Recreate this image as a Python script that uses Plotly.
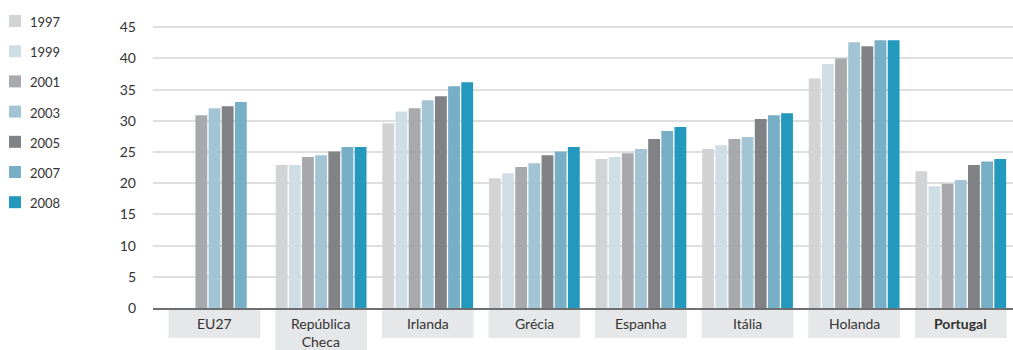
import plotly.graph_objects as go

categories = ["EU27", "República<br>Checa", "Irlanda", "Grécia", "Espanha", "Itália", "Holanda", "<b>Portugal</b>"]
years = ["1997", "1999", "2001", "2003", "2005", "2007", "2008"]

v1997 = [None, 22.9, 29.6, 20.8, 23.9, 25.5, 36.8, 21.9]
v1999 = [None, 22.9, 31.5, 21.6, 24.2, 26.1, 39.1, 19.5]
v2001 = [30.9, 24.2, 32.0, 22.6, 24.8, 27.1, 40.0, 19.9]
v2003 = [32.0, 24.5, 33.3, 23.2, 25.5, 27.4, 42.6, 20.5]
v2005 = [32.35, 25.1, 33.95, 24.5, 27.1, 30.3, 41.95, 22.9]
v2007 = [33.0, 25.8, 35.55, 25.1, 28.35, 30.9, 42.9, 23.5]
v2008 = [None, 25.8, 36.2, 25.8, 29.0, 31.2, 42.9, 23.9]

series = [v1997, v1999, v2001, v2003, v2005, v2007, v2008]
colors = ["#d1d3d4", "#cfdde4", "#a7a9ac", "#a2c4d5", "#808285", "#77afc6", "#2399bd"]

yticks = [0, 5, 10, 15, 20, 25, 30, 35, 40, 45]

FONT = "Lato, 'Open Sans', sans-serif"
xs = list(range(len(categories)))

# layout geometry (pixels)
W, H = 1013, 350
ML, MR, MT, MB = 153, 0, 21, 42
PW, PH = W - ML - MR, H - MT - MB


def px_x(px):
    return (px - ML) / PW


def px_y(py):
    return (H - MB - py) / PH


fig = go.Figure()
for yr, vals, col in zip(years, series, colors):
    fig.add_trace(go.Bar(
        x=xs, y=vals, name=yr, marker=dict(color=col, line=dict(width=0)),
    ))

shapes = []
annotations = []
for i, cat in enumerate(categories):
    bottom = px_y(352) if "<br>" in cat else px_y(338)
    shapes.append(dict(type="rect", xref="x", yref="paper", x0=i - 0.43, x1=i + 0.43,
                       y0=bottom, y1=0, fillcolor="#e6e7e8", line=dict(width=0), layer="below"))
    annotations.append(dict(x=i, xref="x", y=px_y(313), yref="paper", yanchor="top",
                            text=cat, showarrow=False,
                            font=dict(family=FONT, size=14, color="#333333")))

# manual legend
for k, (yr, col) in enumerate(zip(years, colors)):
    cy = 21 + k * 30.2
    shapes.append(dict(type="rect", xref="paper", yref="paper",
                       x0=px_x(9), x1=px_x(21), y0=px_y(cy + 6), y1=px_y(cy - 6),
                       fillcolor=col, line=dict(width=0)))
    annotations.append(dict(x=px_x(28), xref="paper", y=px_y(cy + 1), yref="paper",
                            xanchor="left", yanchor="middle", text=yr, showarrow=False,
                            font=dict(family=FONT, size=13, color="#333333")))

fig.update_layout(
    width=W, height=H,
    margin=dict(l=ML, r=MR, t=MT, b=MB, autoexpand=False),
    paper_bgcolor="white", plot_bgcolor="white",
    barmode="group", bargap=0.136, bargroupgap=0.1,
    font=dict(family=FONT, color="#333333"),
    showlegend=False,
    shapes=shapes, annotations=annotations,
    xaxis=dict(range=[-0.577, 7.49], showticklabels=False, showgrid=False,
               zeroline=False, showline=True, linecolor="#6d6e71", linewidth=2,
               tickmode="array", tickvals=xs),
    yaxis=dict(range=[0, 46], tickvals=yticks, showgrid=True, gridcolor="#dedede",
               gridwidth=1.5, zeroline=False, showline=False,
               ticklabelstandoff=16,
               tickfont=dict(family=FONT, size=14, color="#333333")),
)

fig.write_html("out.html", config={"displayModeBar": False},
               post_script="document.body.style.margin='0';document.body.style.overflow='hidden';")
